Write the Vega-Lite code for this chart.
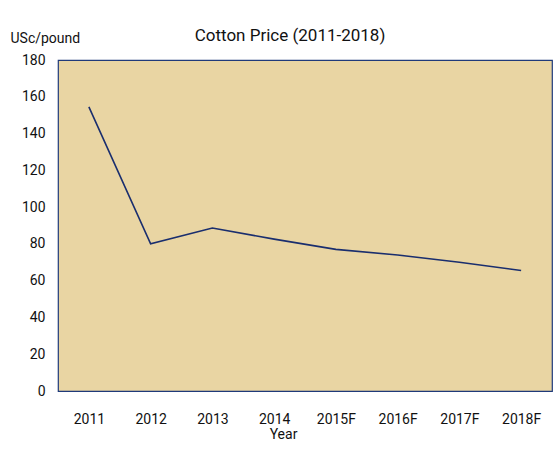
{
  "$schema": "https://vega.github.io/schema/vega-lite/v6.json",
  "width": 494,
  "height": 331,
  "autosize": {"type": "none"},
  "padding": {"left": 58, "top": 60, "right": 7, "bottom": 61},
  "background": "white",
  "config": {
    "font": "Roboto",
    "view": {"fill": "#E9D5A3", "stroke": "#1F3A7A", "strokeWidth": 1.2}
  },
  "title": {
    "text": "Cotton Price (2011-2018)",
    "fontSize": 17,
    "fontWeight": "normal",
    "font": "Roboto",
    "color": "#111111",
    "offset": -14,
    "dx": -15
  },
  "data": {
    "values": [
      {"Year": "2011", "Price": 154.5},
      {"Year": "2012", "Price": 80},
      {"Year": "2013", "Price": 88.6},
      {"Year": "2014", "Price": 82.6},
      {"Year": "2015F", "Price": 77},
      {"Year": "2016F", "Price": 74},
      {"Year": "2017F", "Price": 70},
      {"Year": "2018F", "Price": 65.5}
    ]
  },
  "mark": {"type": "line", "color": "#1A2E6E", "strokeWidth": 1.6},
  "encoding": {
    "x": {
      "field": "Year",
      "type": "ordinal",
      "sort": null,
      "scale": {"type": "point", "padding": 0.5},
      "axis": {
        "labelAngle": 0,
        "labelFontSize": 14,
        "labelColor": "#111111",
        "labelPadding": 21,
        "labelDx": -12,
        "ticks": false,
        "domain": false,
        "grid": false,
        "title": "Year",
        "titleFontSize": 14,
        "titleFontWeight": "normal",
        "titleColor": "#111111",
        "titlePadding": 1,
        "titleX": 225
      }
    },
    "y": {
      "field": "Price",
      "type": "quantitative",
      "scale": {"domain": [0, 180], "nice": false},
      "axis": {
        "values": [0, 20, 40, 60, 80, 100, 120, 140, 160, 180],
        "labelFontSize": 14,
        "labelColor": "#111111",
        "labelPadding": 13,
        "ticks": false,
        "domain": false,
        "grid": false,
        "title": "USc/pound",
        "titleAngle": 0,
        "titleFontSize": 14,
        "titleFontWeight": "normal",
        "titleColor": "#111111",
        "titleAlign": "left",
        "titleBaseline": "alphabetic",
        "titleX": -48,
        "titleY": -18
      }
    }
  }
}
